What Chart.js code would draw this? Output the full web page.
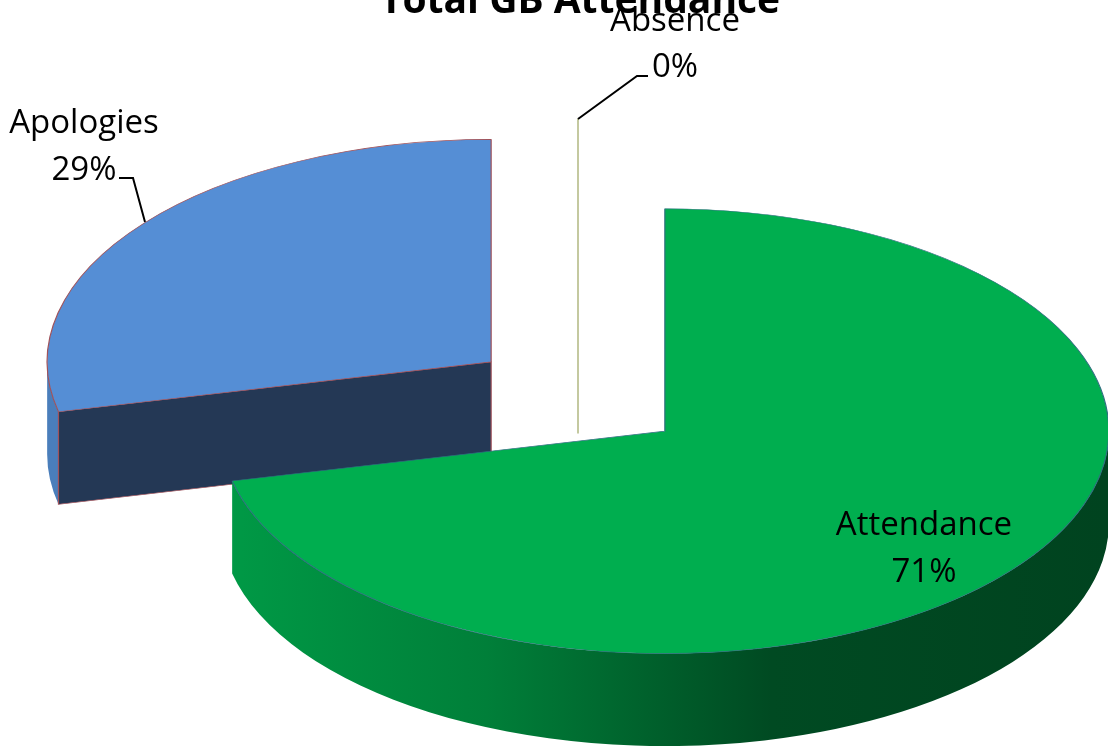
<!DOCTYPE html>
<html>
<head>
<meta charset="utf-8">
<title>Total GB Attendance</title>
<script src="https://cdn.jsdelivr.net/npm/chart.js@4"></script>
<style>
    html, body { margin: 0; padding: 0; background: #fff; overflow: hidden; }
    #wrap { position: relative; width: 1108px; height: 749px; }
</style>
</head>
<body>
<div id="wrap"><canvas id="chart1"></canvas></div>
<script>
// values
const chartTitle = "Total GB Attendance";
const categories = ["Attendance", "Apologies", "Absence"];
const attendance = [71.4, 28.6, 0];

// look of the slices
const topColors = ["#00AE4F", "#558ED5", "#C4C9A0"];
const edgeColors = ["#2F6F80", "#A0525A", "#C4C9A0"];
const faceColor = "#243855";
const blueWall = "#4A7EBB";

// tilt and extrusion of the fake 3d pie
const pieCenterX = 578;
const pieCenterY = 396.5;
const pieRadius = 444;
const squash = 0.501;
const depth = 92.5;
const explode = 111;

// label placement: [centre x, baseline of name, baseline of percent]
const labelSpots = [[924, 535, 582], [84, 133, 180], [675, 31, 77]];
const leaders = [
    [],
    [[119, 178], [133, 178], [145, 222]],
    [[648, 76], [637, 76], [578, 119]]
];

const fakePie3d = {
    id: "fakePie3d",
    beforeDatasetsDraw(chart) {
        const ctx = chart.ctx;
        const arcs = chart.getDatasetMeta(0).data;
        const h = depth / squash;

        ctx.save();
        ctx.translate(pieCenterX, pieCenterY);
        ctx.scale(1, squash);
        ctx.translate(-arcs[0].x, -arcs[0].y);

        // back to front: absence, apologies, attendance
        [2, 1, 0].forEach(i => {
            const arc = arcs[i];
            const mid = (arc.startAngle + arc.endAngle) / 2;
            ctx.save();
            ctx.translate(Math.cos(mid) * explode, Math.sin(mid) * explode);
            drawWalls(ctx, arc, i, h);
            if (arc.circumference > 0) {
                arc.draw(ctx);
            }
            ctx.restore();
        });
        ctx.restore();
        return false;
    },
    afterDraw(chart) {
        const ctx = chart.ctx;
        ctx.save();
        ctx.fillStyle = "#000";
        ctx.textAlign = "center";

        ctx.font = "bold 39px 'Open Sans'";
        ctx.fillText(chartTitle, 580, 13);

        ctx.font = "33px 'Open Sans'";
        categories.forEach((name, i) => {
            const spot = labelSpots[i];
            ctx.fillText(name, spot[0], spot[1]);
            ctx.fillText(Math.round(attendance[i]) + "%", spot[0], spot[2]);
        });

        ctx.strokeStyle = "#000";
        ctx.lineWidth = 2;
        leaders.forEach(line => {
            if (!line.length) return;
            ctx.beginPath();
            line.forEach((p, n) => n ? ctx.lineTo(p[0], p[1]) : ctx.moveTo(p[0], p[1]));
            ctx.stroke();
        });
        ctx.restore();
    }
};

function drawWalls(ctx, arc, i, h) {
    const { x, y, outerRadius: r, startAngle, endAngle } = arc;

    // zero sized slice is only its edge seen from the side
    if (arc.circumference === 0) {
        ctx.strokeStyle = topColors[i];
        ctx.lineWidth = 2;
        ctx.beginPath();
        ctx.moveTo(x, y - r);
        ctx.lineTo(x, y + h);
        ctx.stroke();
        return;
    }

    // outer rim, only the part facing the viewer
    const from = Math.max(startAngle, 0);
    const to = Math.min(endAngle, Math.PI);
    if (to > from) {
        ctx.beginPath();
        ctx.arc(x, y, r, from, to);
        ctx.arc(x, y + h, r, to, from, true);
        ctx.closePath();
        ctx.fillStyle = i === 0 ? greenWall(ctx, arc) : blueWall;
        ctx.fill();
    }

    // cut face, visible when its normal points down
    if (Math.sin(startAngle - Math.PI / 2) > 0.01) {
        const ex = x + Math.cos(startAngle) * r;
        const ey = y + Math.sin(startAngle) * r;
        ctx.beginPath();
        ctx.moveTo(x, y);
        ctx.lineTo(ex, ey);
        ctx.lineTo(ex, ey + h);
        ctx.lineTo(x, y + h);
        ctx.closePath();
        ctx.fillStyle = faceColor;
        ctx.fill();
        ctx.strokeStyle = edgeColors[i];
        ctx.lineWidth = 1.2;
        ctx.stroke();
    }
}

function greenWall(ctx, arc) {
    const left = arc.x - arc.outerRadius;
    const g = ctx.createLinearGradient(left, 0, arc.x + arc.outerRadius, 0);
    g.addColorStop(0, "#009A46");
    g.addColorStop(0.3, "#007F39");
    g.addColorStop(0.62, "#004A22");
    g.addColorStop(1, "#00431F");
    return g;
}

new Chart(document.getElementById("chart1"), {
    type: "pie",
    data: {
        labels: categories,
        datasets: [{
            data: attendance,
            backgroundColor: topColors,
            borderColor: edgeColors,
            borderWidth: 1.2
        }]
    },
    options: {
        responsive: true,
        maintainAspectRatio: false,
        animation: false,
        radius: pieRadius,
        layout: { padding: 0 },
        plugins: {
            legend: { display: false },
            title: { display: false },
            tooltip: { enabled: false }
        }
    },
    plugins: [fakePie3d]
});
</script>
</body>
</html>
